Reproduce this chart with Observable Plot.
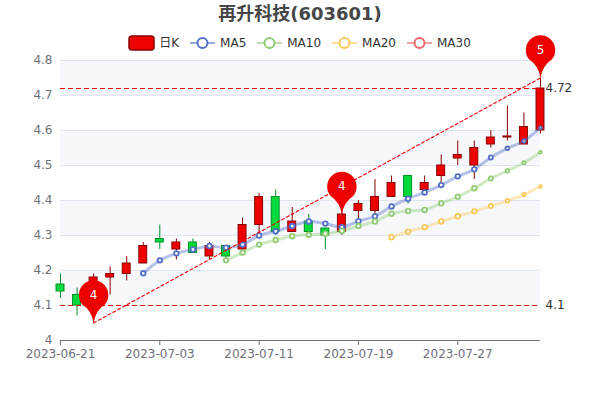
<!DOCTYPE html>
<html>
<head>
<meta charset="utf-8">
<script src="https://cdn.jsdelivr.net/npm/d3@7"></script>
<script src="https://cdn.jsdelivr.net/npm/@observablehq/plot@0.6"></script>
<style>
html,body{margin:0;padding:0;background:#fff;}
#wrap{position:relative;width:600px;height:400px;overflow:hidden;font-family:"DejaVu Sans","Noto Sans CJK SC",sans-serif;}
#title{position:absolute;left:0;right:0;top:3px;text-align:center;font-size:18px;line-height:22px;font-weight:bold;color:#464646;}
#legend{position:absolute;left:0;right:0;top:35px;height:16px;display:flex;justify-content:center;gap:11px;font-size:12px;color:#333;align-items:center;}
.item{display:flex;align-items:center;gap:5px;line-height:16px;}
#chart{position:absolute;left:0;top:0;}
</style>
</head>
<body>
<div id="wrap">
<div id="chart"></div>
<div id="title">再升科技(603601)</div>
<div id="legend"></div>
</div>
<script>
const titleText = "再升科技(603601)";
const dates = ["2023-06-21","2023-06-26","2023-06-27","2023-06-28","2023-06-29","2023-06-30","2023-07-03","2023-07-04","2023-07-05","2023-07-06","2023-07-07","2023-07-10","2023-07-11","2023-07-12","2023-07-13","2023-07-14","2023-07-17","2023-07-18","2023-07-19","2023-07-20","2023-07-21","2023-07-24","2023-07-25","2023-07-26","2023-07-27","2023-07-28","2023-07-31","2023-08-01","2023-08-02","2023-08-03"];
const opens  = [4.16,4.13,4.13,4.18,4.19,4.22,4.29,4.26,4.28,4.24,4.27,4.26,4.33,4.41,4.31,4.34,4.32,4.31,4.37,4.37,4.41,4.47,4.43,4.47,4.52,4.50,4.56,4.58,4.56,4.60];
const closes = [4.14,4.10,4.18,4.19,4.22,4.27,4.28,4.28,4.25,4.27,4.24,4.33,4.41,4.31,4.34,4.31,4.30,4.36,4.39,4.41,4.45,4.41,4.45,4.50,4.53,4.55,4.58,4.583,4.61,4.72];
const highs  = [4.19,4.15,4.19,4.21,4.24,4.28,4.33,4.29,4.29,4.28,4.27,4.35,4.42,4.43,4.38,4.36,4.32,4.37,4.40,4.46,4.47,4.47,4.47,4.53,4.57,4.57,4.60,4.67,4.65,4.75];
const lows   = [4.12,4.07,4.05,4.13,4.17,4.22,4.26,4.23,4.25,4.23,4.23,4.26,4.30,4.30,4.31,4.31,4.26,4.30,4.34,4.35,4.41,4.39,4.43,4.44,4.50,4.46,4.55,4.57,4.56,4.59];
const ma5  = [null,null,null,null,null,4.192,4.229,4.249,4.26,4.27,4.265,4.274,4.30,4.312,4.327,4.34,4.334,4.324,4.341,4.355,4.383,4.405,4.423,4.444,4.469,4.489,4.523,4.549,4.57,4.608];
const ma10 = [null,null,null,null,null,null,null,null,null,null,4.229,4.251,4.274,4.287,4.298,4.302,4.305,4.313,4.327,4.34,4.362,4.37,4.373,4.392,4.411,4.435,4.463,4.485,4.508,4.538];
const ma20 = [null,null,null,null,null,null,null,null,null,null,null,null,null,null,null,null,null,null,null,null,4.295,4.311,4.324,4.34,4.355,4.369,4.384,4.399,4.417,4.44];
const seriesNames = ["MA5","MA10","MA20","MA30"];
const seriesColors = ["#5470c6","#91cc75","#fac858","#ee6666"];
const tickIdx = [0,6,12,18,24];
const yTicks = [4,4.1,4.2,4.3,4.4,4.5,4.6,4.7,4.8];
const hLines = [4.72,4.1];
const pins = [{i:2,v:4.05,t:"4"},{i:17,v:4.36,t:"4"},{i:29,v:4.75,t:"5"}];
const trend = [{i:2,v:4.05},{i:29,v:4.75}];

const UP="#ec0000",UPB="#8a0000",DN="#00da3c",DNB="#008f28";
const last = dates.length-1;
const candles = dates.map((d,i)=>({i,o:opens[i],c:closes[i],h:highs[i],l:lows[i],up:closes[i]>=opens[i]}));
const bands = yTicks.slice(0,-1).map((v,k)=>({y1:v,y2:yTicks[k+1],odd:k%2===1}));

const pinSymbol = {draw(ctx,size){
  const r=Math.sqrt(size/Math.PI), cy=-r*1.9;
  const a=Math.PI*0.22;
  const px=r*Math.cos(a), py=cy+r*Math.sin(a);
  ctx.moveTo(0,0);
  ctx.quadraticCurveTo(-r*0.12,py+r*0.42,-px,py);
  ctx.arc(0,cy,r,Math.PI-a,a,false);
  ctx.quadraticCurveTo(r*0.12,py+r*0.42,0,0);
  ctx.closePath();
}};

const maMarks = [[ma5,0],[ma10,1],[ma20,2]].flatMap(([vals,k])=>{
  const pts = vals.map((v,i)=>({i,v})).filter(d=>d.v!=null);
  return [
    Plot.line(pts,{x:"i",y:"v",stroke:seriesColors[k],strokeWidth:3,strokeOpacity:0.42,curve:"catmull-rom"}),
    Plot.dot(pts,{x:"i",y:"v",stroke:seriesColors[k],fill:"#fff",strokeWidth:1.8,
      r:{value:d=>d.i>25?2.3-(d.i-25)*0.22:2.3,scale:null}})
  ];
});

const chart = Plot.plot({
  width:600,height:400,
  marginLeft:60,marginRight:60,marginTop:60,marginBottom:60,
  style:{fontFamily:'"DejaVu Sans","Noto Sans CJK SC",sans-serif',fontSize:"12px",background:"transparent",overflow:"visible"},
  x:{type:"linear",domain:[0,last]},
  y:{type:"linear",domain:[4,4.8]},
  marks:[
    Plot.rect(bands.filter(b=>b.odd),{x1:()=>0,x2:()=>last,y1:"y1",y2:"y2",fill:"#f6f8fc"}),
    Plot.ruleY(yTicks.slice(1),{x1:()=>0,x2:()=>last,stroke:"#e0e6f1",strokeWidth:1}),
    Plot.ruleY([4],{x1:()=>0,x2:()=>last,stroke:"#6e7079",strokeWidth:1}),
    Plot.axisY({ticks:yTicks,tickSize:0,tickPadding:8,color:"#6e7079",label:null,tickFormat:d=>String(d),anchor:"left"}),
    Plot.axisX({ticks:tickIdx,tickSize:5,tickPadding:4,stroke:"#6e7079",color:"#6e7079",label:null,tickFormat:i=>dates[i]}),
    Plot.ruleX(candles,{x:"i",y1:"l",y2:"h",stroke:d=>d.up?UPB:DNB,strokeWidth:1}),
    Plot.rect(candles,{x1:d=>d.i-0.24,x2:d=>d.i+0.24,y1:"o",y2:"c",fill:d=>d.up?UP:DN,stroke:d=>d.up?UPB:DNB,strokeWidth:1}),
    ...maMarks,
    Plot.ruleY(hLines,{x1:()=>0,x2:()=>last,stroke:"#f00000",strokeWidth:1.2,strokeDasharray:"5,3"}),
    Plot.line(trend,{x:"i",y:"v",stroke:"#f00000",strokeWidth:1.1,strokeDasharray:"3,2.5"}),
    Plot.text(hLines,{x:()=>last,y:d=>d,text:d=>String(d),dx:5,textAnchor:"start",fill:"#333",fontSize:12}),
    Plot.dot(pins,{x:"i",y:"v",r:14.7,fill:"#ec0000",symbol:pinSymbol,stroke:"none"}),
    Plot.text(pins,{x:"i",y:"v",text:"t",dy:-28,fill:"#fff",fontSize:12})
  ]
});
document.getElementById("chart").appendChild(chart);
document.getElementById("title").textContent = titleText;

// legend
const legend = d3.select("#legend");
const k = legend.append("div").attr("class","item");
k.append("svg").attr("width",27).attr("height",16).style("margin","0 -1px")
 .append("rect").attr("x",1).attr("y",1).attr("width",25).attr("height",14).attr("rx",3)
 .attr("fill",UP).attr("stroke",UPB).attr("stroke-width",1.5);
k.append("span").text("日K");
seriesNames.forEach((n,j)=>{
  const it = legend.append("div").attr("class","item");
  const s = it.append("svg").attr("width",25).attr("height",16);
  s.append("line").attr("x1",0).attr("x2",25).attr("y1",8).attr("y2",8).attr("stroke",seriesColors[j]).attr("stroke-width",2).attr("stroke-opacity",0.6);
  s.append("circle").attr("cx",12.5).attr("cy",8).attr("r",5).attr("fill","#fff").attr("stroke",seriesColors[j]).attr("stroke-width",2);
  it.append("span").text(n);
});
</script>
</body>
</html>
